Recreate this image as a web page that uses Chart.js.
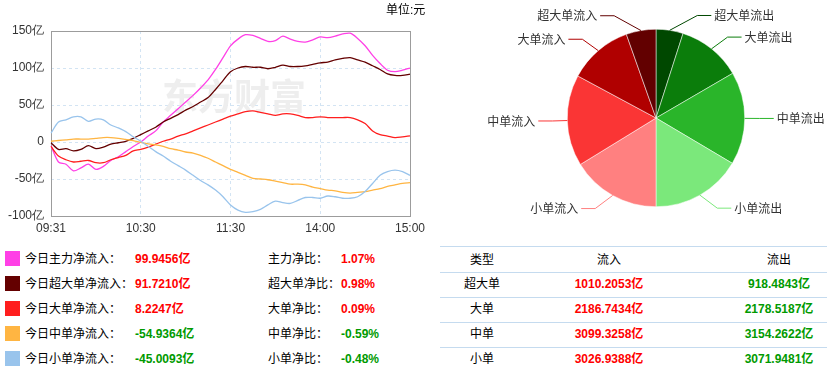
<!DOCTYPE html>
<html>
<head>
<meta charset="utf-8">
<script src="https://cdn.jsdelivr.net/npm/chart.js@4.4.1/dist/chart.umd.min.js"></script>
<style>
  body { margin: 0; width: 827px; height: 371px; overflow: hidden; background: #fff; position: relative;
         font-family: "Liberation Sans", Arial, "Noto Sans CJK SC", sans-serif; font-size: 12px; color: #000; }
  .abs { position: absolute; white-space: nowrap; line-height: 16px; }
  .b { font-weight: bold; }
  .up { color: #ff0000; }
  .down { color: #009a00; }
  .hline { position: absolute; left: 440px; width: 400px; height: 1px; background: #c5dbef; }
</style>
</head>
<body>
<canvas id="flow" width="430" height="240" style="position:absolute;left:0;top:0"></canvas>
<canvas id="pie" width="387" height="240" style="position:absolute;left:440px;top:0"></canvas>
<div class="abs" style="left:386px;top:2px">单位:元</div>
<div id="bottom"></div>

<script>
// time axis (one point every 5 minutes of trading)
const times = ['09:31','09:35','09:40','09:45','09:50','09:55','10:00','10:05','10:10','10:15','10:20','10:25','10:30',
  '10:35','10:40','10:45','10:50','10:55','11:00','11:05','11:10','11:15','11:20','11:25','11:30',
  '13:05','13:10','13:15','13:20','13:25','13:30','13:35','13:40','13:45','13:50','13:55','14:00',
  '14:05','14:10','14:15','14:20','14:25','14:30','14:35','14:40','14:45','14:50','14:55','15:00'];
const xTickLabels = ['09:31', '10:30', '11:30', '14:00', '15:00'];

// net inflow, 亿元
const zhuli = [-5,-27,-30,-39,-35,-30,-37,-33,-25,-20,-13,-6,0,8,15,27,36,45,54,63,73,84,98,114,130,139,145,144,140,136,137,143,139,136,135,138,142,141,143,146,147,140,130,117,106,97,95,97,99.9456];
const chaoda = [-1,-10,-9,-12,-10,-5,-9,-7,-3,-1,1,5,10,15,20,27,32,37,43,48,54,60,71,83,95,100,102,101,101,99,101,104,102,102,103,105,107,108,111,113,114,111,108,103,98,92,90,90,91.721];
const dadan = [-6,-19,-24,-27,-26,-25,-28,-28,-24,-21,-18,-12,-10,-7,-3,1,4,8,11,15,19,23,27,31,35,38,41,42,40,38,36,38,38,36,33,33,34,33,33,33,33,30,25,15,10,8,6,7,8.2247];
const zhongdan = [1,2,3,4,4,4,5,6,6,5,3.5,2,-0.5,-2.5,-4,-6,-9,-11,-13.5,-15,-18,-22,-27,-32,-37,-41,-45,-49,-50,-51,-53,-55,-57,-57,-58,-61,-63,-65,-66,-68,-69,-68,-67,-65,-63,-60,-58,-56,-54.9364];
const xiaodan = [12,27,30,34,34,28,31,30,23,19,14,7,1,-6,-13,-19,-26,-32,-38,-45,-52,-58,-65,-74,-85,-92,-95,-94,-91,-85,-80,-82,-83,-79,-75,-75,-76,-73,-74,-76,-76,-74,-67,-56,-45,-40,-38,-40,-45.0093];

const seriesNames = ['今日主力净流入：', '今日超大单净流入：', '今日大单净流入：', '今日中单净流入：', '今日小单净流入：'];
const seriesColors = ['#ff40e6', '#640000', '#ff1e1e', '#ffb542', '#99c4ec'];
const netValues = [99.9456, 91.7210, 8.2247, -54.9364, -45.0093];
const ratioNames = ['主力净比：', '超大单净比：', '大单净比：', '中单净比：', '小单净比：'];
const ratioValues = [1.07, 0.98, 0.09, -0.59, -0.48];

const flowTypes = ['超大单', '大单', '中单', '小单'];
const inflow = [1010.2053, 2186.7434, 3099.3258, 3026.9388];
const outflow = [918.4843, 2178.5187, 3154.2622, 3071.9481];
const inColors = ['#620000', '#b00000', '#fa3535', '#ff8080'];
const outColors = ['#004800', '#0b7d0b', '#2ab52a', '#7be87b'];

// ---- line chart ----
const frame = {
  id: 'frame',
  beforeDatasetsDraw(chart) {
    const { ctx, chartArea: a } = chart;
    ctx.save();
    ctx.fillStyle = '#eeeeee';
    ctx.font = 'bold 36px "Noto Sans CJK SC"';
    ctx.textBaseline = 'middle';
    ctx.fillText('东方财富', 162, 96);
    ctx.strokeStyle = '#9c9c9c';
    ctx.lineWidth = 1;
    ctx.strokeRect(Math.round(a.left) + 0.5, Math.round(a.top) + 0.5, Math.round(a.width), Math.round(a.height));
    ctx.restore();
  }
};

const lineData = [zhuli, chaoda, dadan, zhongdan, xiaodan];

new Chart(document.getElementById('flow'), {
  type: 'line',
  data: {
    labels: times,
    datasets: lineData.map((d, i) => ({
      data: d,
      borderColor: seriesColors[i],
      borderWidth: 1.3,
      pointRadius: 0,
      tension: 0.3,
      fill: false
    })).reverse()
  },
  options: {
    responsive: false,
    animation: false,
    layout: { padding: { top: 31, right: 20, left: 0, bottom: 0 } },
    plugins: { legend: { display: false }, tooltip: { enabled: false } },
    scales: {
      x: {
        grid: {
          drawTicks: false,
          color: ctx => {
            const l = times[ctx.index];
            return (l === '10:30' || l === '11:30' || l === '14:00') ? '#d3e4f3' : 'rgba(0,0,0,0)';
          }
        },
        border: { display: false, dash: [3, 3] },
        ticks: {
          autoSkip: false, maxRotation: 0, padding: 5, color: '#333', font: { size: 12 },
          callback: function (v) {
            const l = this.getLabelForValue(v);
            return xTickLabels.includes(l) ? l : '';
          }
        },
        afterFit: s => { s.height = 24; }
      },
      y: {
        min: -100, max: 150,
        grid: {
          drawTicks: false,
          color: ctx => (ctx.tick.value === 150 || ctx.tick.value === -100) ? 'rgba(0,0,0,0)' : '#d3e4f3'
        },
        border: { display: false, dash: [3, 3] },
        ticks: {
          stepSize: 50, padding: 7, color: '#333', font: { size: 12 },
          callback: v => v === 0 ? '0' : v + '亿'
        },
        afterFit: s => { s.width = 51; }
      }
    }
  },
  plugins: [frame]
});

// ---- pie chart ----
const pieLabels = flowTypes.map(t => t + '流出').concat(flowTypes.map(t => t + '流入').reverse());
const pieValues = outflow.concat(inflow.slice().reverse());
const pieColors = outColors.concat(inColors.slice().reverse());

const leaderLabels = {
  id: 'leaderLabels',
  afterDatasetsDraw(chart) {
    const ctx = chart.ctx;
    const meta = chart.getDatasetMeta(0);
    ctx.save();
    ctx.font = '12px "Noto Sans CJK SC"';
    ctx.textBaseline = 'middle';
    meta.data.forEach((arc, i) => {
      const p = arc.getProps(['x', 'y', 'startAngle', 'endAngle', 'outerRadius'], true);
      const a = (p.startAngle + p.endAngle) / 2;
      const rA = p.outerRadius + 15, rB = rA + 8;
      const dy = rA * Math.sin(a);
      const side = Math.cos(a) >= 0 ? 1 : -1;
      const ex = p.x + side * rA * Math.sqrt(Math.max(0, 1 - dy * dy / (rB * rB)));
      const ey = p.y + dy;
      const lx = ex + side * 14;
      ctx.strokeStyle = pieColors[i];
      ctx.lineWidth = 1;
      ctx.beginPath();
      ctx.moveTo(p.x + p.outerRadius * Math.cos(a), p.y + p.outerRadius * Math.sin(a));
      ctx.lineTo(ex, ey);
      ctx.lineTo(lx, ey);
      ctx.stroke();
      ctx.fillStyle = '#333';
      ctx.textAlign = side > 0 ? 'left' : 'right';
      ctx.fillText(pieLabels[i], lx + side * 3, ey);
    });
    ctx.restore();
  }
};

new Chart(document.getElementById('pie'), {
  type: 'pie',
  data: {
    labels: pieLabels,
    datasets: [{ data: pieValues, backgroundColor: pieColors, borderColor: '#ffffff', borderWidth: 0.5 }]
  },
  options: {
    responsive: false,
    animation: false,
    layout: { padding: { left: 127, right: 82, top: 29, bottom: 33 } },
    plugins: { legend: { display: false }, tooltip: { enabled: false } }
  },
  plugins: [leaderLabels]
});

// ---- tables below ----
const bottom = document.getElementById('bottom');
let html = '';
seriesNames.forEach((name, i) => {
  const cy = 258.5 + 25 * i;
  const cls = netValues[i] >= 0 ? 'up' : 'down';
  html += `<div style="position:absolute;left:5px;top:${cy - 7.5}px;width:15px;height:15px;background:${seriesColors[i]}"></div>`;
  html += `<div class="abs" style="left:25px;top:${cy - 8}px">${name}</div>`;
  html += `<div class="abs b ${cls}" style="left:135px;top:${cy - 8}px">${netValues[i].toFixed(4)}亿</div>`;
  html += `<div class="abs" style="left:268px;top:${cy - 8}px">${ratioNames[i]}</div>`;
  html += `<div class="abs b ${cls}" style="left:341px;top:${cy - 8}px">${ratioValues[i].toFixed(2)}%</div>`;
});
const colCenters = [482, 609, 779];
[246, 271.5, 296.5, 321.5, 346.5].forEach(y => { html += `<div class="hline" style="top:${y}px"></div>`; });
['类型', '流入', '流出'].forEach((h, j) => {
  html += `<div class="abs" style="left:${colCenters[j] - 60}px;width:120px;text-align:center;top:252px">${h}</div>`;
});
flowTypes.forEach((t, i) => {
  const top = 276 + 25 * i;
  html += `<div class="abs" style="left:${colCenters[0] - 60}px;width:120px;text-align:center;top:${top}px">${t}</div>`;
  html += `<div class="abs b up" style="left:${colCenters[1] - 60}px;width:120px;text-align:center;top:${top}px">${inflow[i].toFixed(4)}亿</div>`;
  html += `<div class="abs b down" style="left:${colCenters[2] - 60}px;width:120px;text-align:center;top:${top}px">${outflow[i].toFixed(4)}亿</div>`;
});
bottom.innerHTML = html;
</script>
</body>
</html>
